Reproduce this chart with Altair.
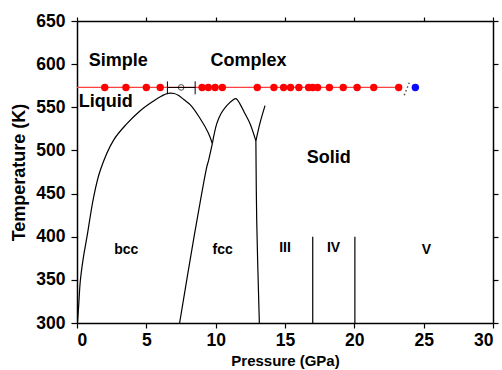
import altair as alt
import pandas as pd

# ---- data ----
T_EXP = 573  # isotherm (K)

red_p = [2.0, 3.53, 5.0, 6.0, 9.02, 9.47, 9.96, 10.48, 13.0, 14.2, 14.9, 15.4,
         16.0, 16.7, 17.0, 17.35, 18.2, 19.2, 20.2, 21.4, 23.2]
open_p = [7.51]
blue_p = [24.4]
bar_p = [6.52, 8.52]
bar_t_lo = [565, 565]
bar_t_hi = [580, 580]
dot_p = [23.6, 24.0]
dot_t = [564, 580]

bcc_melt_p = [0.03, 0.12, 0.24, 0.45, 0.72, 1.2, 1.68, 2.64, 3.6, 4.56, 5.5, 6.1,
              6.5, 7.0, 7.3, 7.7, 8.16, 8.88, 9.48, 9.76]
bcc_melt_t = [300, 320, 349, 375, 400, 446, 477, 512, 531, 546, 557, 563,
              566, 566, 564, 559, 553, 537, 520, 508]
fcc_melt_p = [9.76, 10.08, 10.4, 10.8, 11.2, 11.47, 11.75, 12.1, 12.48, 12.9]
fcc_melt_t = [508, 531, 543, 552, 558, 560, 554, 543, 531, 511]
iii_melt_p = [12.9, 13.2, 13.56]
iii_melt_t = [511, 532, 552]
bcc_fcc_p = [9.76, 9.48, 9.36, 8.4, 7.4]
bcc_fcc_t = [508, 488, 481, 396, 300]
fcc_iii_p = [12.9, 12.96, 13.15]
fcc_iii_t = [511, 419, 300]
iii_iv_p = [17.0, 17.0]
iii_iv_t = [400, 300]
iv_v_p = [20.04, 20.04]
iv_v_t = [400, 300]

big_labels = ["Simple", "Complex", "Liquid", "Solid"]
big_p = [2.97, 12.37, 2.07, 18.16]
big_t = [604, 604, 556, 491]
small_labels = ["bcc", "fcc", "III", "IV", "V"]
small_p = [3.55, 10.5, 15.0, 18.5, 25.2]
small_t = [385, 385, 387, 387, 385]

x_ticks = [0, 5, 10, 15, 20, 25, 30]
y_ticks = [300, 350, 400, 450, 500, 550, 600, 650]

# ---- tables ----
segs = [
    ("bcc_melt", bcc_melt_p, bcc_melt_t),
    ("fcc_melt", fcc_melt_p, fcc_melt_t),
    ("iii_melt", iii_melt_p, iii_melt_t),
    ("bcc_fcc", bcc_fcc_p, bcc_fcc_t),
    ("fcc_iii", fcc_iii_p, fcc_iii_t),
    ("iii_iv", iii_iv_p, iii_iv_t),
    ("iv_v", iv_v_p, iv_v_t),
]
rows = []
for name, ps, ts in segs:
    for i, (p, t) in enumerate(zip(ps, ts)):
        rows.append({"seg": name, "ord": i, "P": p, "T": t})
curves = pd.DataFrame(rows)

red_df = pd.DataFrame({"P": red_p, "T": [T_EXP] * len(red_p)})
open_df = pd.DataFrame({"P": open_p, "T": [T_EXP] * len(open_p)})
blue_df = pd.DataFrame({"P": blue_p, "T": [T_EXP] * len(blue_p)})
iso_df = pd.DataFrame({"P": [0, red_p[-1]], "T": [T_EXP, T_EXP]})
bar_df = pd.DataFrame({"P": bar_p, "T": bar_t_lo, "T2": bar_t_hi})
barh_df = pd.DataFrame({"P": [bar_p[0]], "P2": [bar_p[1]], "T": [T_EXP]})
dot_df = pd.DataFrame({"P": dot_p, "T": dot_t})
big_df = pd.DataFrame({"label": big_labels, "P": big_p, "T": big_t})
small_df = pd.DataFrame({"label": small_labels, "P": small_p, "T": small_t})

FONT = "Liberation Sans"
xs = alt.Scale(domain=[0, 30], nice=False, zero=False)
ys = alt.Scale(domain=[300, 650], nice=False, zero=False)

common_axis = dict(domainColor="black", domainWidth=1.5, tickColor="black",
                   tickWidth=1.2, grid=False, labelFont=FONT, labelFontWeight="bold",
                   labelColor="black", titleFont=FONT, titleFontWeight="bold",
                   titleColor="black")

x_bottom = alt.Axis(orient="bottom", values=x_ticks, tickSize=5, labelPadding=3,
                    labelFontSize=17.5, title="Pressure (GPa)", titleFontSize=15,
                    titlePadding=5, **common_axis)
y_left = alt.Axis(orient="left", values=y_ticks, tickSize=6, labelPadding=6,
                  labelFontSize=17.5, title="Temperature (K)", titleFontSize=18,
                  titlePadding=7, **common_axis)
x_top = alt.Axis(orient="top", values=x_ticks, tickSize=4, labels=False, title=None,
                 **common_axis)
y_right = alt.Axis(orient="right", values=y_ticks, tickSize=5, labels=False, title=None,
                   **common_axis)

lines = alt.Chart(curves).mark_line(color="black", strokeWidth=1.2, clip=True,
                                    interpolate="catmull-rom").encode(
    x=alt.X("P:Q", scale=xs, axis=x_bottom),
    y=alt.Y("T:Q", scale=ys, axis=y_left),
    detail="seg:N",
    order="ord:Q",
)

frame = alt.Chart(iso_df).mark_line(color="#ff4040", strokeWidth=1.2).encode(
    x=alt.X("P:Q", scale=xs, axis=x_top),
    y=alt.Y("T:Q", scale=ys, axis=y_right),
)

barh = alt.Chart(barh_df).mark_rule(color="black", strokeWidth=1).encode(
    x=alt.X("P:Q", scale=xs, axis=None), x2="P2:Q",
    y=alt.Y("T:Q", scale=ys, axis=None),
)
bars = alt.Chart(bar_df).mark_rule(color="black", strokeWidth=1).encode(
    x=alt.X("P:Q", scale=xs, axis=None),
    y=alt.Y("T:Q", scale=ys, axis=None), y2="T2:Q",
)
dotted = alt.Chart(dot_df).mark_line(color="#555555", strokeWidth=1.5,
                                     strokeDash=[1.5, 2.5]).encode(
    x=alt.X("P:Q", scale=xs, axis=None),
    y=alt.Y("T:Q", scale=ys, axis=None),
)
red_pts = alt.Chart(red_df).mark_circle(color="#ff0000", size=55, opacity=1).encode(
    x=alt.X("P:Q", scale=xs, axis=None),
    y=alt.Y("T:Q", scale=ys, axis=None),
)
open_pts = alt.Chart(open_df).mark_point(shape="circle", filled=False, color="black",
                                         size=32, strokeWidth=1).encode(
    x=alt.X("P:Q", scale=xs, axis=None),
    y=alt.Y("T:Q", scale=ys, axis=None),
)
blue_pts = alt.Chart(blue_df).mark_circle(color="#0a0aff", size=55, opacity=1).encode(
    x=alt.X("P:Q", scale=xs, axis=None),
    y=alt.Y("T:Q", scale=ys, axis=None),
)
big_txt = alt.Chart(big_df).mark_text(font=FONT, fontWeight="bold", fontSize=18,
                                      color="black", align="center",
                                      baseline="middle").encode(
    x=alt.X("P:Q", scale=xs, axis=None),
    y=alt.Y("T:Q", scale=ys, axis=None),
    text="label:N",
)
small_txt = alt.Chart(small_df).mark_text(font=FONT, fontWeight="bold", fontSize=14,
                                          color="black", align="center",
                                          baseline="middle").encode(
    x=alt.X("P:Q", scale=xs, axis=None),
    y=alt.Y("T:Q", scale=ys, axis=None),
    text="label:N",
)

chart = alt.layer(
    lines, frame, barh, bars, dotted, red_pts, open_pts, blue_pts, big_txt, small_txt
).resolve_axis(x="independent", y="independent").properties(
    width=416, height=302, autosize="none",
    padding={"left": 77, "top": 21, "right": 9, "bottom": 47},
    background="white",
).configure_view(stroke=None)

chart.save("out.html", embed_options={"renderer": "svg", "actions": False})
